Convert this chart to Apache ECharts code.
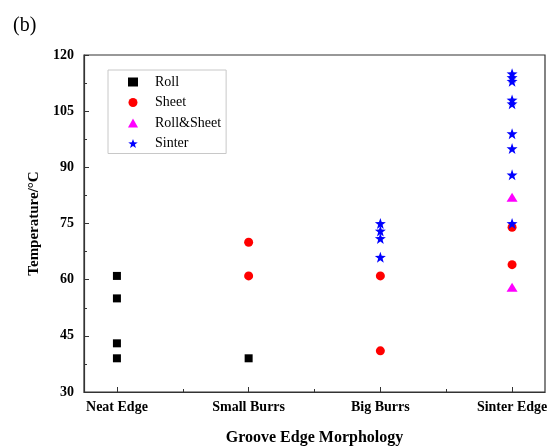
<!DOCTYPE html>
<html>
<head>
<meta charset="utf-8">
<script src="https://cdn.jsdelivr.net/npm/echarts@6/dist/echarts.min.js"></script>
<style>
  html, body { margin: 0; padding: 0; background: #fff; }
  #chart { width: 549px; height: 446px; }
</style>
</head>
<body>
<div id="chart"></div>
<script>
// Groove edge morphology categories (x positions 1..4)
const categories = ['Neat Edge', 'Small Burrs', 'Big Burrs', 'Sinter Edge'];

// Temperatures (°C) per category for each chip form
const rollTemps       = [[61, 55, 43, 39], [39], [], []];
const sheetTemps      = [[], [70, 61], [61, 41], [74, 64]];
const rollSheetTemps  = [[], [], [], [82, 58]];
const sinterTemps     = [[], [], [75, 73, 71, 66], [115, 114, 113, 108, 107, 99, 95, 88, 75]];

// Y axis ticks
const yMin = 30, yMax = 120, yStep = 15;

const serif = '"Liberation Serif", "Times New Roman", serif';
const starPath = 'path://M0,-10L2.35,-3.24L9.51,-3.09L3.8,1.24L5.88,8.09L0,4L-5.88,8.09L-3.8,1.24L-9.51,-3.09L-2.35,-3.24Z';

function toPoints(groups) {
  const pts = [];
  groups.forEach((vals, i) => vals.forEach(v => pts.push([i + 1, v])));
  return pts;
}

const chart = echarts.init(document.getElementById('chart'), null, { renderer: 'canvas' });

chart.setOption({
  animation: false,
  backgroundColor: '#fff',
  title: {
    text: '(b)',
    left: 8,
    top: 11,
    textStyle: { fontFamily: serif, fontSize: 20, fontWeight: 'normal', color: '#000' }
  },
  grid: {
    left: 84, right: 4, top: 55, bottom: 54,
    outerBoundsMode: 'none',
    containLabel: false,
    show: true, borderColor: '#333', borderWidth: 1.2, backgroundColor: 'transparent'
  },
  legend: {
    orient: 'vertical',
    left: 108,
    top: 70,
    padding: [5, 5, 3, 20],
    itemWidth: 10,
    itemHeight: 9,
    itemGap: 6.5,
    borderColor: '#c8c8c8',
    borderWidth: 1,
    textStyle: { fontFamily: serif, fontSize: 14, lineHeight: 14, color: '#000', padding: [0, 0, 0, 12] },
    data: ['Roll', 'Sheet', 'Roll&Sheet', 'Sinter']
  },
  xAxis: [
    {
      type: 'value',
      position: 'bottom',
      min: 0.75,
      max: 4.25,
      name: 'Groove Edge Morphology',
      nameLocation: 'middle',
      nameGap: 38,
      nameTextStyle: { fontFamily: serif, fontSize: 16, fontWeight: 'bold', color: '#000' },
      axisLine: { show: true, lineStyle: { color: '#333', width: 1.2 } },
      axisTick: { show: true, inside: true, length: 5, customValues: [1, 2, 3, 4], lineStyle: { color: '#333' } },
      axisLabel: {
        customValues: [1, 2, 3, 4],
        margin: 8,
        fontFamily: serif, fontSize: 14, fontWeight: 'bold', color: '#000',
        formatter: v => categories[Math.round(v) - 1] || ''
      },
      splitLine: { show: false }
    },
    {
      type: 'value',
      position: 'bottom',
      min: 0.75,
      max: 4.25,
      axisLine: { show: false },
      axisTick: { show: true, inside: true, length: 3, customValues: [1.5, 2.5, 3.5], lineStyle: { color: '#333' } },
      axisLabel: { show: false },
      splitLine: { show: false }
    }
  ],
  yAxis: {
    type: 'value',
    min: yMin,
    max: yMax,
    interval: yStep,
    name: 'Temperature/\u00B0C',
    nameLocation: 'middle',
    nameGap: 37,
    nameTextStyle: { fontFamily: serif, fontSize: 15, fontWeight: 'bold', color: '#000' },
    axisLine: { show: true, lineStyle: { color: '#333', width: 1.2 } },
    axisTick: { show: true, inside: true, length: 5, lineStyle: { color: '#333' } },
    minorTick: { show: true, splitNumber: 2, length: 3, lineStyle: { color: '#333' } },
    axisLabel: { margin: 10, fontFamily: serif, fontSize: 14, fontWeight: 'bold', color: '#000' },
    splitLine: { show: false }
  },
  series: [
    {
      name: 'Roll', type: 'scatter', xAxisIndex: 0,
      symbol: 'rect', symbolSize: 8,
      itemStyle: { color: '#000', opacity: 1 },
      data: toPoints(rollTemps)
    },
    {
      name: 'Sheet', type: 'scatter', xAxisIndex: 0,
      symbol: 'circle', symbolSize: 9,
      itemStyle: { color: '#ff0000', opacity: 1 },
      data: toPoints(sheetTemps)
    },
    {
      name: 'Roll&Sheet', type: 'scatter', xAxisIndex: 0,
      symbol: 'triangle', symbolSize: [11, 9],
      itemStyle: { color: '#ff00ff', opacity: 1 },
      data: toPoints(rollSheetTemps)
    },
    {
      name: 'Sinter', type: 'scatter', xAxisIndex: 0,
      symbol: starPath, symbolSize: 11,
      itemStyle: { color: '#0000ff', opacity: 1 },
      data: toPoints(sinterTemps)
    }
  ]
});
</script>
</body>
</html>
